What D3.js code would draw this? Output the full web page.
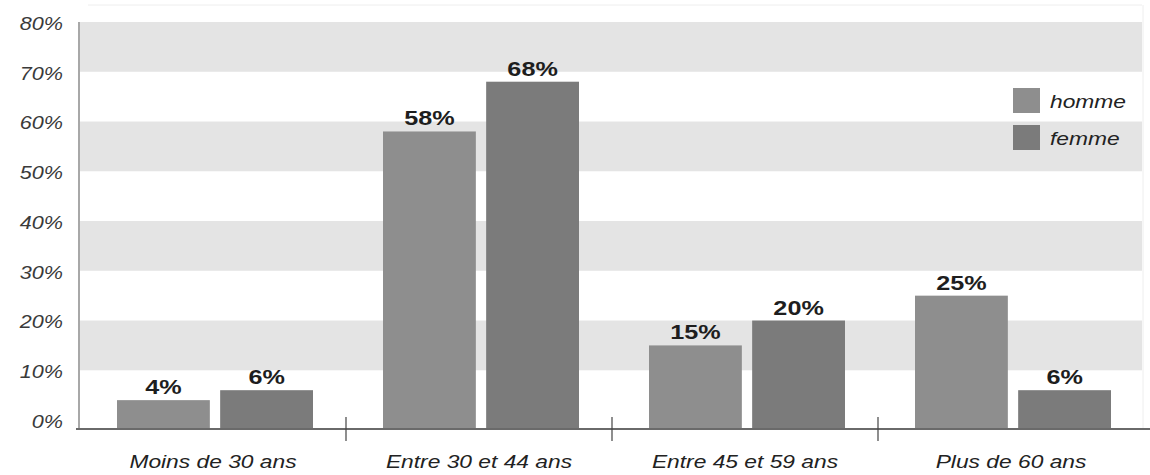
<!DOCTYPE html>
<html>
<head>
<meta charset="utf-8">
<script src="https://cdn.jsdelivr.net/npm/d3@7"></script>
<style>
html,body{margin:0;padding:0;background:#fff;}
svg{display:block;}
text{font-family:"Liberation Sans",Arial,sans-serif;}
</style>
</head>
<body>
<svg id="chart" width="1150" height="475"></svg>
<script>
const categories = ["Moins de 30 ans", "Entre 30 et 44 ans", "Entre 45 et 59 ans", "Plus de 60 ans"];
const seriesNames = ["homme", "femme"];
const homme = [4, 58, 15, 25];
const femme = [6, 68, 20, 6];
const yTickValues = [0, 10, 20, 30, 40, 50, 60, 70, 80];
const yMin = -1.8;
const yMax = 80;

const colors = {homme: "#8e8e8e", femme: "#7b7b7b"};
const SX = 1.2;

const svg = d3.select("#chart");
const plotLeft = 80, plotRight = 1142, plotTop = 22, plotBottom = 429;

const x = d3.scaleBand().domain(categories).range([plotLeft, plotRight + 2]).padding(0);
const xi = d3.scaleBand().domain(seriesNames).range([37, 233]).paddingInner(0.1).paddingOuter(0);
const y = d3.scaleLinear().domain([yMin, yMax]).range([plotBottom, plotTop]);

// faint frame lines
svg.append("line").attr("x1", 88).attr("x2", plotRight).attr("y1", 5).attr("y2", 5)
  .attr("stroke", "#eeeeee").attr("stroke-width", 1);
svg.append("line").attr("x1", plotRight + 1).attr("x2", plotRight + 1).attr("y1", 5).attr("y2", plotBottom)
  .attr("stroke", "#eeeeee").attr("stroke-width", 1);

// alternating bands
const bandPairs = [[10, 20], [30, 40], [50, 60], [70, 80]];
svg.append("g").selectAll("rect").data(bandPairs).join("rect")
  .attr("x", plotLeft)
  .attr("width", plotRight - plotLeft)
  .attr("y", d => y(d[1]))
  .attr("height", d => y(d[0]) - y(d[1]))
  .attr("fill", "#e4e4e4");

// y axis line
svg.append("line").attr("x1", 79).attr("x2", 79).attr("y1", plotTop).attr("y2", plotBottom)
  .attr("stroke", "#a8a8a8").attr("stroke-width", 2);

// y labels
svg.append("g").selectAll("text").data(yTickValues).join("text")
  .attr("transform", d => `translate(63,${y(d) + 3}) scale(${SX},1)`)
  .attr("text-anchor", "end")
  .attr("dominant-baseline", "middle")
  .attr("font-size", 18)
  .attr("font-style", "italic")
  .attr("fill", "#3a3a3a")
  .text(d => d + "%");

// bars
const rows = categories.map((c, i) => ({cat: c, values: [
  {s: "homme", v: homme[i]}, {s: "femme", v: femme[i]}
]}));

const groups = svg.append("g").selectAll("g").data(rows).join("g")
  .attr("transform", d => `translate(${x(d.cat)},0)`);

groups.selectAll("rect").data(d => d.values).join("rect")
  .attr("x", d => xi(d.s))
  .attr("width", xi.bandwidth())
  .attr("y", d => y(d.v))
  .attr("height", d => y(yMin) - y(d.v))
  .attr("fill", d => colors[d.s]);

groups.selectAll("text").data(d => d.values).join("text")
  .attr("transform", d => `translate(${xi(d.s) + xi.bandwidth() / 2},${y(d.v) - 6}) scale(${SX},1)`)
  .attr("text-anchor", "middle")
  .attr("font-size", 21)
  .attr("font-weight", "bold")
  .attr("fill", "#1e1e1e")
  .text(d => d.v + "%");

// x axis line
svg.append("line").attr("x1", 76).attr("x2", 1150).attr("y1", plotBottom).attr("y2", plotBottom)
  .attr("stroke", "#6a6a6a").attr("stroke-width", 2);

// separator ticks between groups
svg.append("g").selectAll("line").data(categories.slice(1)).join("line")
  .attr("x1", d => x(d)).attr("x2", d => x(d))
  .attr("y1", plotBottom - 12).attr("y2", plotBottom + 12)
  .attr("stroke", "#444").attr("stroke-width", 1.2);

// category labels
svg.append("g").selectAll("text").data(categories).join("text")
  .attr("transform", d => `translate(${x(d) + x.bandwidth() / 2},468) scale(${SX},1)`)
  .attr("text-anchor", "middle")
  .attr("font-size", 19)
  .attr("font-style", "italic")
  .attr("fill", "#222")
  .text(d => d);

// legend
const legend = svg.append("g").selectAll("g").data(seriesNames).join("g")
  .attr("transform", (d, i) => `translate(1013,${88 + i * 37})`);
legend.append("rect").attr("width", 27).attr("height", 25).attr("fill", d => colors[d]);
legend.append("text")
  .attr("transform", `translate(37,20) scale(${SX},1)`)
  .attr("font-size", 19)
  .attr("font-style", "italic")
  .attr("fill", "#222")
  .text(d => d);
</script>
</body>
</html>
